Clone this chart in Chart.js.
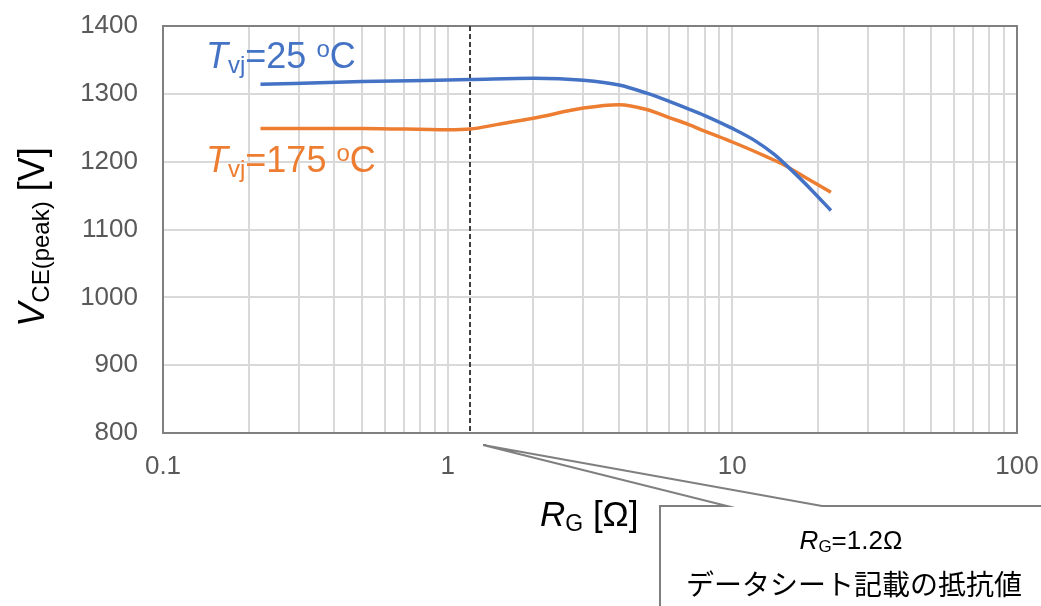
<!DOCTYPE html>
<html>
<head>
<meta charset="utf-8">
<script src="https://cdn.jsdelivr.net/npm/chart.js@4/dist/chart.umd.min.js"></script>
<style>
  html, body { margin: 0; padding: 0; background: #fff; }
  #wrap { width: 1041px; height: 606px; }
</style>
</head>
<body>
<div id="wrap"><canvas id="chart" width="1041" height="606"></canvas></div>
<script>
// R_G [Ohm] vs V_CE(peak) [V]
const rg25 = [0.22, 0.5, 1.2, 2, 3, 4, 5, 6, 7, 8, 10, 12, 14, 16, 19, 22.2];
const vce25 = [1314, 1318, 1321, 1323, 1320, 1313, 1301, 1289, 1278, 1268, 1249, 1231, 1211, 1189, 1158, 1128];

const rg175 = [0.22, 0.5, 1.0, 1.2, 1.5, 2, 3, 4, 5, 6, 7, 8, 10, 13.4, 15.2, 18, 22.2];
const vce175 = [1249, 1249, 1247, 1248, 1255, 1264, 1279, 1284, 1277, 1265, 1255, 1245, 1229, 1206, 1195, 1177, 1155];

// axes
const xGridTicks = [0.1, 0.2, 0.3, 0.4, 0.5, 0.6, 0.7, 0.8, 0.9,
                    1, 2, 3, 4, 5, 6, 7, 8, 9,
                    10, 20, 30, 40, 50, 60, 70, 80, 90, 100];
const xTickLabels = { '0.1': '0.1', '1': '1', '10': '10', '100': '100' };
const yMin = 800, yMax = 1400, yStep = 100;
const refRg = 1.2; // datasheet gate resistor

const FONT = '"Liberation Sans", Arial, sans-serif';
const JP_FONT = '"Noto Sans CJK JP", sans-serif';
const BLUE = '#4472C4';
const ORANGE = '#ED7D31';

function drawRich(ctx, parts, x, y, align) {
  let total = 0;
  parts.forEach(p => {
    ctx.font = p.font;
    p.w = ctx.measureText(p.text).width;
    total += p.w;
  });
  let cx = align === 'center' ? x - total / 2 : x;
  ctx.textAlign = 'left';
  ctx.textBaseline = 'alphabetic';
  parts.forEach(p => {
    ctx.font = p.font;
    ctx.fillText(p.text, cx, y + (p.dy || 0));
    cx += p.w;
  });
}

const annotate = {
  id: 'annotate',
  beforeDatasetsDraw(chart) {
    const { ctx, chartArea: a, scales } = chart;
    ctx.save();
    // plot frame
    ctx.strokeStyle = '#808080';
    ctx.lineWidth = 2;
    ctx.strokeRect(a.left, a.top, a.right - a.left, a.bottom - a.top);
    // dashed reference line at R_G = 1.2
    const xr = Math.round(scales.x.getPixelForValue(refRg));
    ctx.strokeStyle = '#404040';
    ctx.setLineDash([5, 3]);
    ctx.beginPath();
    ctx.moveTo(xr, a.top);
    ctx.lineTo(xr, a.bottom);
    ctx.stroke();
    ctx.restore();
  },
  afterDraw(chart) {
    const { ctx } = chart;
    ctx.save();

    // series labels
    ctx.fillStyle = BLUE;
    drawRich(ctx, [
      { text: 'T', font: 'italic 36px ' + FONT },
      { text: 'vj', font: '24px ' + FONT, dy: 5 },
      { text: '=25 ', font: '36px ' + FONT },
      { text: 'o', font: '24px ' + FONT, dy: -11 },
      { text: 'C', font: '36px ' + FONT }
    ], 206, 68);
    ctx.fillStyle = ORANGE;
    drawRich(ctx, [
      { text: 'T', font: 'italic 36px ' + FONT },
      { text: 'vj', font: '24px ' + FONT, dy: 5 },
      { text: '=175 ', font: '36px ' + FONT },
      { text: 'o', font: '24px ' + FONT, dy: -11 },
      { text: 'C', font: '36px ' + FONT }
    ], 206, 172);

    // y axis title
    ctx.fillStyle = '#000';
    ctx.save();
    ctx.translate(44, 237);
    ctx.rotate(-Math.PI / 2);
    drawRich(ctx, [
      { text: 'V', font: 'italic 36px ' + FONT },
      { text: 'CE(peak)', font: '24px ' + FONT, dy: 5 },
      { text: ' [V]', font: '36px ' + FONT }
    ], 0, 0, 'center');
    ctx.restore();

    // x axis title
    drawRich(ctx, [
      { text: 'R', font: 'italic 35px ' + FONT },
      { text: 'G', font: '23px ' + FONT, dy: 5 },
      { text: ' [Ω]', font: '35px ' + FONT }
    ], 540, 526);

    // callout
    const tipX = 483, tipY = 445, boxL = 660, boxT = 506;
    ctx.beginPath();
    ctx.moveTo(boxL, 620);
    ctx.lineTo(boxL, boxT);
    ctx.lineTo(727, boxT);
    ctx.lineTo(tipX, tipY);
    ctx.lineTo(822, boxT);
    ctx.lineTo(1060, boxT);
    ctx.lineTo(1060, 620);
    ctx.closePath();
    ctx.fillStyle = '#fff';
    ctx.fill();
    ctx.beginPath();
    ctx.moveTo(boxL, 620);
    ctx.lineTo(boxL, boxT);
    ctx.lineTo(727, boxT);
    ctx.lineTo(tipX, tipY);
    ctx.lineTo(822, boxT);
    ctx.lineTo(1060, boxT);
    ctx.strokeStyle = '#7f7f7f';
    ctx.lineWidth = 2;
    ctx.lineJoin = 'miter';
    ctx.stroke();

    ctx.fillStyle = '#000';
    drawRich(ctx, [
      { text: 'R', font: 'italic 26px ' + FONT },
      { text: 'G', font: '17px ' + FONT, dy: 3 },
      { text: '=1.2Ω', font: '26px ' + FONT }
    ], 851, 549, 'center');
    ctx.font = '28px ' + JP_FONT;
    ctx.textAlign = 'center';
    ctx.textBaseline = 'alphabetic';
    ctx.fillText('データシート記載の抵抗値', 854, 595);

    ctx.restore();
  }
};

new Chart(document.getElementById('chart'), {
  type: 'line',
  data: {
    datasets: [
      {
        label: 'Tvj=25 °C',
        data: rg25.map((x, i) => ({ x, y: vce25[i] })),
        borderColor: BLUE,
        borderWidth: 3.5,
        pointRadius: 0,
        fill: false,
        cubicInterpolationMode: 'monotone'
      },
      {
        label: 'Tvj=175 °C',
        data: rg175.map((x, i) => ({ x, y: vce175[i] })),
        borderColor: ORANGE,
        borderWidth: 3.5,
        pointRadius: 0,
        fill: false,
        cubicInterpolationMode: 'monotone'
      }
    ]
  },
  options: {
    responsive: false,
    devicePixelRatio: 1,
    animation: false,
    layout: { padding: { left: 0, right: 24, top: 26, bottom: 0 } },
    plugins: { legend: { display: false }, tooltip: { enabled: false } },
    scales: {
      x: {
        type: 'logarithmic',
        min: 0.1,
        max: 100,
        afterBuildTicks: (scale) => {
          scale.ticks = xGridTicks.map(v => ({ value: v }));
        },
        afterFit: (scale) => {
          scale.height = 606 - 433;
          scale.paddingLeft = 0;
          scale.paddingRight = 0;
        },
        grid: { color: '#d9d9d9', lineWidth: 2, drawTicks: false },
        border: { display: false },
        ticks: {
          autoSkip: false,
          maxRotation: 0,
          padding: 18,
          color: '#595959',
          font: { family: FONT, size: 26 },
          callback: (value) => xTickLabels[String(value)] || ''
        }
      },
      y: {
        type: 'linear',
        min: yMin,
        max: yMax,
        afterFit: (scale) => {
          scale.width = 163;
          scale.paddingTop = 0;
          scale.paddingBottom = 0;
        },
        grid: { color: '#d9d9d9', lineWidth: 2, drawTicks: false },
        border: { display: false },
        ticks: {
          stepSize: yStep,
          padding: 25,
          color: '#595959',
          font: { family: FONT, size: 26 },
          callback: (value) => String(value)
        }
      }
    }
  },
  plugins: [annotate]
});
</script>
</body>
</html>
